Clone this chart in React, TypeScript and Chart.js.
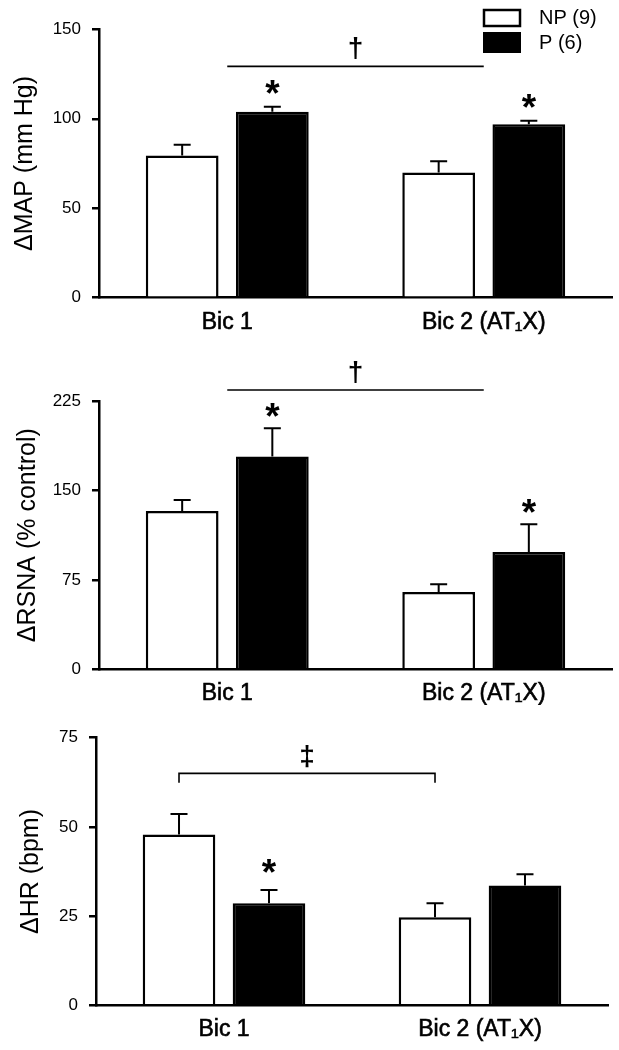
import React, { useEffect, useRef } from "react";
import { Chart, registerables } from "chart.js";

Chart.register(...registerables);

// ---------- data ----------
const CATEGORIES = ["Bic 1", "Bic 2 (AT\u2081X)"];
const SERIES_LABELS = ["NP (9)", "P (6)"];

const MAP_NP = [79.5, 70.0];
const MAP_NP_SEM = [6.0, 6.2];
const MAP_P = [103.9, 96.9];
const MAP_P_SEM = [2.8, 2.0];
const MAP_TICKS = [0, 50, 100, 150];
const MAP_STARS_P = [true, true];

const RSNA_NP = [132.8, 64.8];
const RSNA_NP_SEM = [9.2, 6.5];
const RSNA_P = [178.4, 98.4];
const RSNA_P_SEM = [23.8, 23.2];
const RSNA_TICKS = [0, 75, 150, 225];
const RSNA_STARS_P = [true, true];

const HR_NP = [47.9, 24.7];
const HR_NP_SEM = [5.7, 3.9];
const HR_P = [28.6, 33.6];
const HR_P_SEM = [3.7, 3.1];
const HR_TICKS = [0, 25, 50, 75];
const HR_STARS_P = [true, false];

const FONT = "'Liberation Sans', Arial, Helvetica, sans-serif";
const TICK_FONT = "'Liberation Sans Narrow', 'Arial Narrow', 'Liberation Sans', Arial, sans-serif";

// ---------- panel layout ----------
const PANELS: any[] = [
  {
    title: "\u0394MAP (mm Hg)",
    np: MAP_NP, npSem: MAP_NP_SEM, p: MAP_P, pSem: MAP_P_SEM,
    ticks: MAP_TICKS, stars: MAP_STARS_P,
    canvasTop: 0, height: 345, chartTop: 29.3, chartBottom: 297.7, left: 99, right: 612,
    titleX: 25, starGap: 20,
    comp: { kind: "line", value: 129.3, symbol: "\u2020", symbolValue: 139.0 },
    legend: true,
  },
  {
    title: "\u0394RSNA (% control)",
    np: RSNA_NP, npSem: RSNA_NP_SEM, p: RSNA_P, pSem: RSNA_P_SEM,
    ticks: RSNA_TICKS, stars: RSNA_STARS_P,
    canvasTop: 345, height: 360, chartTop: 401, chartBottom: 669.3, left: 99, right: 612,
    titleX: 28, starGap: 18,
    comp: { kind: "line", value: 234.2, symbol: "\u2020", symbolValue: 248.9 },
    legend: false,
  },
  {
    title: "\u0394HR (bpm)",
    np: HR_NP, npSem: HR_NP_SEM, p: HR_P, pSem: HR_P_SEM,
    ticks: HR_TICKS, stars: HR_STARS_P,
    canvasTop: 705, height: 345, chartTop: 737.7, chartBottom: 1005.3, left: 96, right: 608,
    titleX: 31, starGap: 24,
    comp: { kind: "bracket", value: 65.0, endValue: 62.4, symbol: "\u2021", symbolValue: 69.7 },
    legend: false,
  },
];

function drawCenteredText(ctx: any, text: string, x: number, yc: number, font: string) {
  ctx.save();
  ctx.font = font;
  ctx.fillStyle = "#000";
  ctx.textAlign = "center";
  ctx.textBaseline = "alphabetic";
  const m = ctx.measureText(text);
  const asc = m.actualBoundingBoxAscent || 0;
  const desc = m.actualBoundingBoxDescent || 0;
  const base = yc + (asc - desc) / 2;
  ctx.fillText(text, x, base);
  ctx.restore();
}

function annotationPlugin(p: any) {
  return {
    id: "annotations",
    afterDatasetsDraw(chart: any) {
      const ctx = chart.ctx;
      const ys = chart.scales.y;
      const xs = chart.scales.x;
      ctx.save();
      ctx.strokeStyle = "#000";
      ctx.lineWidth = 2;
      // error bars (upward with cap)
      chart.data.datasets.forEach((ds: any, di: number) => {
        const meta = chart.getDatasetMeta(di);
        meta.data.forEach((bar: any, i: number) => {
          const v = ds.data[i];
          const e = ds.sem[i];
          const yBar = ys.getPixelForValue(v);
          const yTop = ys.getPixelForValue(v + e);
          ctx.beginPath();
          ctx.moveTo(bar.x, yBar);
          ctx.lineTo(bar.x, yTop);
          ctx.moveTo(bar.x - 8.5, yTop);
          ctx.lineTo(bar.x + 8.5, yTop);
          ctx.stroke();
          if (di === 1 && p.stars[i]) {
            drawCenteredText(ctx, "*", bar.x, yTop - p.starGap, `bold 37px ${FONT}`);
          }
        });
      });
      // comparison line / bracket
      const c = p.comp;
      const yl = ys.getPixelForValue(c.value);
      let x1: number, x2: number;
      if (c.kind === "line") {
        x1 = xs.getPixelForValue(0);
        x2 = xs.getPixelForValue(1);
        ctx.lineWidth = 1.6;
        ctx.beginPath();
        ctx.moveTo(x1, yl);
        ctx.lineTo(x2, yl);
        ctx.stroke();
      } else {
        const m0 = chart.getDatasetMeta(0);
        x1 = m0.data[0].x;
        x2 = m0.data[1].x;
        const ye = ys.getPixelForValue(c.endValue);
        ctx.lineWidth = 1.6;
        ctx.beginPath();
        ctx.moveTo(x1, ye);
        ctx.lineTo(x1, yl);
        ctx.lineTo(x2, yl);
        ctx.lineTo(x2, ye);
        ctx.stroke();
      }
      drawCenteredText(ctx, c.symbol, (x1 + x2) / 2, ys.getPixelForValue(c.symbolValue), `bold 28px ${FONT}`);
      // legend
      if (p.legend) {
        const labels = chart.data.datasets.map((d: any) => d.label);
        ctx.lineWidth = 2.5;
        ctx.strokeStyle = "#000";
        ctx.fillStyle = "#fff";
        ctx.fillRect(484, 10, 36, 16);
        ctx.strokeRect(484, 10, 36, 16);
        ctx.fillStyle = "#000";
        ctx.fillRect(483, 32, 38, 21);
        ctx.font = `20px ${FONT}`;
        ctx.textAlign = "left";
        ctx.textBaseline = "middle";
        ctx.fillText(labels[0], 539, 18.5);
        ctx.fillText(labels[1], 539, 43);
      }
      ctx.restore();
    },
  };
}

function makeConfig(p: any): any {
  const maxV = p.ticks[p.ticks.length - 1];
  return {
    type: "bar",
    data: {
      labels: CATEGORIES,
      datasets: [
        {
          label: SERIES_LABELS[0], data: p.np, sem: p.npSem,
          backgroundColor: "#ffffff", borderColor: "#000000", borderWidth: 2.5, borderSkipped: "start",
        },
        {
          label: SERIES_LABELS[1], data: p.p, sem: p.pSem,
          backgroundColor: "#000000", borderColor: "#000000", borderWidth: 2.5, borderSkipped: "start",
        },
      ],
    },
    options: {
      animation: false,
      responsive: false,
      maintainAspectRatio: false,
      devicePixelRatio: 1,
      events: [],
      layout: { padding: { left: 0, right: 619 - p.right, top: p.chartTop - p.canvasTop, bottom: 0 } },
      datasets: { bar: { categoryPercentage: 0.703, barPercentage: 0.807 } },
      plugins: { legend: { display: false }, tooltip: { enabled: false }, title: { display: false } },
      scales: {
        x: {
          grid: { display: false, drawTicks: false },
          border: { display: true, color: "#000", width: 2.5 },
          ticks: {
            color: "#000", font: { family: FONT, size: 23 }, padding: 11, maxRotation: 0, autoSkip: false,
            textStrokeColor: "#000", textStrokeWidth: 0.6,
          },
          afterFit: (s: any) => { s.height = p.canvasTop + p.height - p.chartBottom; },
        },
        y: {
          min: 0,
          max: maxV,
          afterBuildTicks: (s: any) => { s.ticks = p.ticks.map((v: number) => ({ value: v })); },
          grid: { drawOnChartArea: false, drawTicks: true, tickLength: 7, color: "#000", lineWidth: 2.5 },
          border: { display: true, color: "#000", width: 2.5 },
          ticks: { color: "#000", font: { family: TICK_FONT, size: 17 }, padding: 11 },
          title: {
            display: true, text: p.title, color: "#000",
            font: { family: FONT, size: 25 },
            padding: { top: p.titleX - 15, bottom: 0 },
          },
          afterFit: (s: any) => { s.width = p.left; },
        },
      },
    },
    plugins: [annotationPlugin(p)],
  };
}

function Panel({ p }: { p: any }) {
  const ref = useRef<HTMLCanvasElement | null>(null);
  useEffect(() => {
    if (!ref.current) return;
    const chart = new Chart(ref.current, makeConfig(p));
    return () => chart.destroy();
  }, [p]);
  return (
    <canvas
      ref={ref}
      width={619}
      height={p.height}
      style={{ position: "absolute", left: 0, top: p.canvasTop, width: 619, height: p.height }}
    />
  );
}

export default function App() {
  return (
    <div style={{ position: "absolute", left: 0, top: 0, width: 619, height: 1050, background: "#fff" }}>
      {PANELS.map((p, i) => (
        <Panel key={i} p={p} />
      ))}
    </div>
  );
}
